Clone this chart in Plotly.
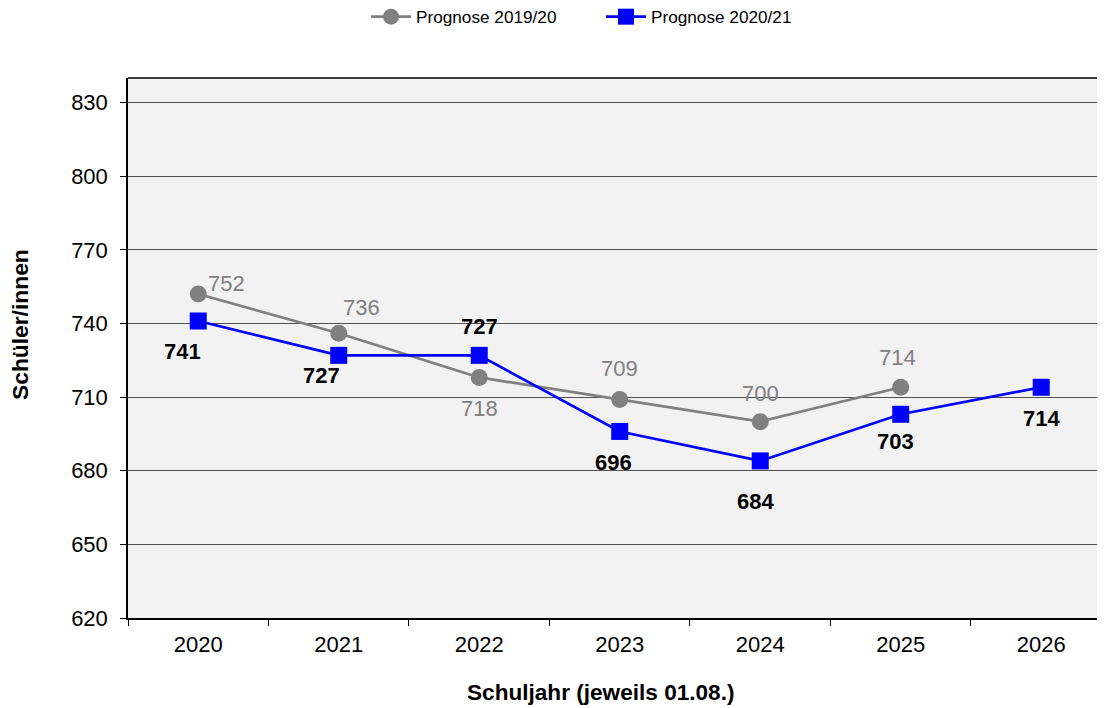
import plotly.graph_objects as go

years = ["2020", "2021", "2022", "2023", "2024", "2025", "2026"]
prog_1920 = [752, 736, 718, 709, 700, 714]
prog_2021 = [741, 727, 727, 696, 684, 703, 714]
y_ticks = [620, 650, 680, 710, 740, 770, 800, 830]

# label offsets (px) for data labels: (xshift, yshift)
off_1920 = [(28, 11), (23, 26), (0, -31), (0, 31), (0, 28), (-3, 30)]
off_2021 = [(-16, -30), (-17, -20), (0, 29), (-6, -31), (-5, -41), (-5, -27), (0, -31)]

FONT = "Arial, Liberation Sans, sans-serif"

# page body has an 8px default margin -> figure is laid out 8px smaller
W, H = 1097, 700
ML, MR, MT, MB = 120, 0, 70, 90
PW, PH = W - ML - MR, H - MT - MB

fig = go.Figure()
fig.add_trace(go.Scatter(
    x=years[:len(prog_1920)], y=prog_1920, name="Prognose 2019/20",
    mode="lines+markers",
    line=dict(color="#808080", width=2.7),
    marker=dict(symbol="circle", size=17, color="#808080"),
))
fig.add_trace(go.Scatter(
    x=years, y=prog_2021, name="Prognose 2020/21",
    mode="lines+markers",
    line=dict(color="#0000ff", width=2.7),
    marker=dict(symbol="square", size=17, color="#0000ff"),
))

annotations = []
for i, (yv, (dx, dy)) in enumerate(zip(prog_1920, off_1920)):
    annotations.append(dict(x=i, y=yv, xref="x", yref="y", text=str(yv), showarrow=False,
                            xshift=dx, yshift=dy,
                            font=dict(family=FONT, size=22, color="#808080")))
for i, (yv, (dx, dy)) in enumerate(zip(prog_2021, off_2021)):
    annotations.append(dict(x=i, y=yv, xref="x", yref="y", text="<b>%d</b>" % yv, showarrow=False,
                            xshift=dx, yshift=dy,
                            font=dict(family=FONT, size=22, color="#000000")))
annotations.append(dict(x=(20 - 8 - ML) / PW, y=(H - MB - (325 - 8)) / PH,
                        xref="paper", yref="paper",
                        text="<b>Schüler/innen</b>", showarrow=False, textangle=-90,
                        xanchor="center", yanchor="middle",
                        font=dict(family=FONT, size=22.8, color="#000000")))
annotations.append(dict(x=(600 - 8 - ML) / PW, y=-((692 - 8) - (H - MB)) / PH,
                        xref="paper", yref="paper",
                        text="<b>Schuljahr (jeweils 01.08.)</b>", showarrow=False,
                        xanchor="center", yanchor="middle",
                        font=dict(family=FONT, size=22.6, color="#000000")))

fig.update_layout(
    width=W, height=H,
    margin=dict(l=ML, r=MR, t=MT, b=MB, autoexpand=False),
    paper_bgcolor="white",
    plot_bgcolor="#f2f2f2",
    font=dict(family=FONT, size=22, color="#000000"),
    showlegend=True,
    legend=dict(orientation="h", x=(372 - 8 - 6 - ML) / PW, xanchor="left",
                y=(H - MB - (17 - 8)) / PH, yanchor="middle",
                font=dict(family=FONT, size=17.2, color="#000000"),
                bgcolor="rgba(0,0,0,0)", itemwidth=40,
                entrywidth=180, entrywidthmode="pixels"),
    annotations=annotations,
)
fig.update_xaxes(
    type="category", categoryorder="array", categoryarray=years,
    range=[-0.5, 6.454],
    showgrid=False, zeroline=False,
    showline=True, linecolor="#000000", linewidth=1.5,
    ticks="outside", tickson="boundaries", ticklen=6, tickcolor="#000000",
    tickfont=dict(family=FONT, size=22, color="#000000"),
    ticklabelstandoff=6,
    automargin=False,
)
fig.update_yaxes(
    range=[620, 840], tickvals=y_ticks,
    showgrid=True, gridcolor="#505050", gridwidth=1,
    zeroline=False,
    showline=True, linecolor="#000000", linewidth=1.5,
    ticks="outside", ticklen=6, tickcolor="#000000",
    tickfont=dict(family=FONT, size=22, color="#000000"),
    ticklabelstandoff=8,
    automargin=False,
)
fig.add_shape(type="line", xref="paper", yref="paper", x0=0, x1=1, y0=1, y1=1,
              line=dict(color="#000000", width=1.5))

fig.write_html("out.html")
